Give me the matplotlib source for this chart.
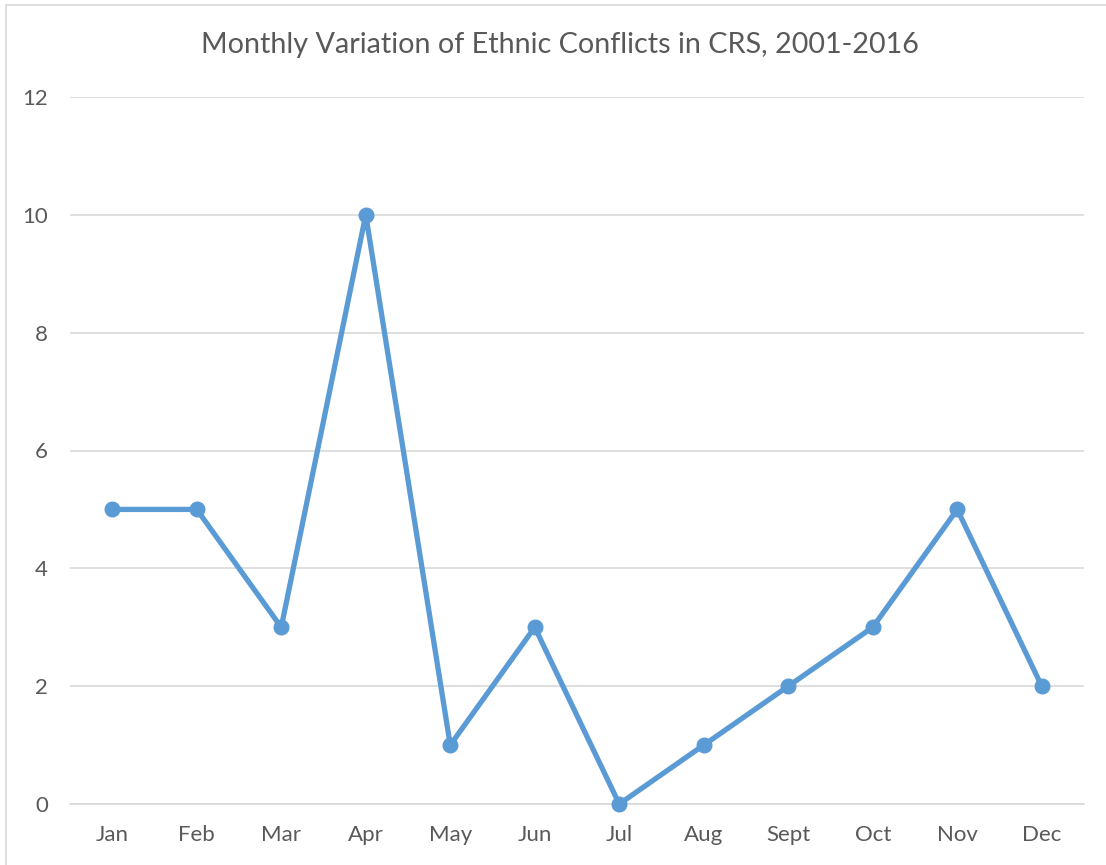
import matplotlib
matplotlib.use('Agg')
import matplotlib.pyplot as plt
from matplotlib.patches import Rectangle

months = ['Jan', 'Feb', 'Mar', 'Apr', 'May', 'Jun', 'Jul', 'Aug', 'Sept', 'Oct', 'Nov', 'Dec']
conflicts = [5, 5, 3, 10, 1, 3, 0, 1, 2, 3, 5, 2]
yticks = [0, 2, 4, 6, 8, 10, 12]

plt.rcParams['font.family'] = ['Lato', 'DejaVu Sans']
text_col = '#595959'
grid_col = '#D9D9D9'

fig = plt.figure(figsize=(11.06, 8.65), dpi=100)
ax = fig.add_axes([70/1106, 1-804/865, (1084-70)/1106, (804-97)/865])

# chart border (only top/left visible in the reference)
fig.patches.append(Rectangle((6/1106, -0.1), 1.2, 1-5/865+0.1, transform=fig.transFigure,
                             fill=False, edgecolor=grid_col, lw=1.2))

x = list(range(len(months)))
ax.plot(x, conflicts, color='#5B9BD5', lw=3.8, marker='o', markersize=10.5,
        solid_joinstyle='round', clip_on=False, zorder=3)

ax.set_xlim(-0.5, len(months) - 0.5)
ax.set_ylim(0, 12)
ax.set_yticks(yticks)
ax.set_xticks(x)
ax.set_xticklabels(months)
ax.grid(axis='y', color=grid_col, lw=1.2)
ax.set_axisbelow(True)
for s in ['top', 'right', 'left']:
    ax.spines[s].set_visible(False)
ax.spines['bottom'].set_color(grid_col)
ax.spines['bottom'].set_linewidth(1.2)
ax.tick_params(axis='both', length=0, labelsize=16, colors=text_col)
ax.tick_params(axis='y', pad=16)
ax.tick_params(axis='x', pad=15)

fig.text(560/1106, 1-45/865, 'Monthly Variation of Ethnic Conflicts in CRS, 2001-2016',
         ha='center', va='center', fontsize=20.7, color=text_col)

fig.savefig('out.png', dpi=100)
